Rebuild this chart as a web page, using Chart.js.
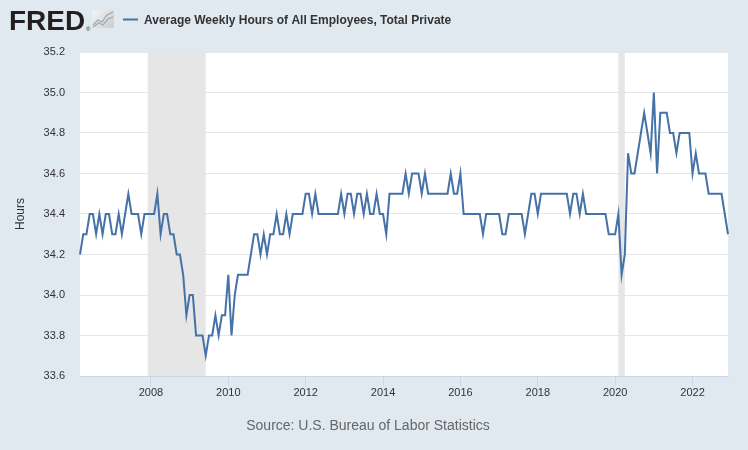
<!DOCTYPE html>
<html>
<head>
<meta charset="utf-8">
<script src="https://cdn.jsdelivr.net/npm/chart.js@4.4.0/dist/chart.umd.min.js"></script>
<style>
html, body { margin: 0; padding: 0; background: #e1e9f0; }
</style>
</head>
<body>
<canvas id="hoursChart" width="748" height="450"></canvas>
<script>
// monthly categories, Mar 2006 .. Dec 2022
const months = [];
for (let y = 2006; y <= 2022; y++) {
    for (let m = (y === 2006 ? 3 : 1); m <= 12; m++) {
        months.push(y + '-' + String(m).padStart(2, '0'));
    }
}

// average weekly hours, one row per year
const hours2006 = [34.2, 34.3, 34.3, 34.4, 34.4, 34.3, 34.4, 34.3, 34.4, 34.4];
const hours2007 = [34.3, 34.3, 34.4, 34.3, 34.4, 34.5, 34.4, 34.4, 34.4, 34.3, 34.4, 34.4];
const hours2008 = [34.4, 34.4, 34.5, 34.3, 34.4, 34.4, 34.3, 34.3, 34.2, 34.2, 34.1, 33.9];
const hours2009 = [34.0, 34.0, 33.8, 33.8, 33.8, 33.7, 33.8, 33.8, 33.9, 33.8, 33.9, 33.9];
const hours2010 = [34.1, 33.8, 34.0, 34.1, 34.1, 34.1, 34.1, 34.2, 34.3, 34.3, 34.2, 34.3];
const hours2011 = [34.2, 34.3, 34.3, 34.4, 34.3, 34.3, 34.4, 34.3, 34.4, 34.4, 34.4, 34.4];
const hours2012 = [34.5, 34.5, 34.4, 34.5, 34.4, 34.4, 34.4, 34.4, 34.4, 34.4, 34.4, 34.5];
const hours2013 = [34.4, 34.5, 34.5, 34.4, 34.5, 34.5, 34.4, 34.5, 34.4, 34.4, 34.5, 34.4];
const hours2014 = [34.4, 34.3, 34.5, 34.5, 34.5, 34.5, 34.5, 34.6, 34.5, 34.6, 34.6, 34.6];
const hours2015 = [34.5, 34.6, 34.5, 34.5, 34.5, 34.5, 34.5, 34.5, 34.5, 34.6, 34.5, 34.5];
const hours2016 = [34.6, 34.4, 34.4, 34.4, 34.4, 34.4, 34.4, 34.3, 34.4, 34.4, 34.4, 34.4];
const hours2017 = [34.4, 34.3, 34.3, 34.4, 34.4, 34.4, 34.4, 34.4, 34.3, 34.4, 34.5, 34.5];
const hours2018 = [34.4, 34.5, 34.5, 34.5, 34.5, 34.5, 34.5, 34.5, 34.5, 34.5, 34.4, 34.5];
const hours2019 = [34.5, 34.4, 34.5, 34.4, 34.4, 34.4, 34.4, 34.4, 34.4, 34.4, 34.3, 34.3];
const hours2020 = [34.3, 34.4, 34.1, 34.2, 34.7, 34.6, 34.6, 34.7, 34.8, 34.9, 34.8, 34.7];
const hours2021 = [35.0, 34.6, 34.9, 34.9, 34.9, 34.8, 34.8, 34.7, 34.8, 34.8, 34.8, 34.8];
const hours2022 = [34.6, 34.7, 34.6, 34.6, 34.6, 34.5, 34.5, 34.5, 34.5, 34.5, 34.4, 34.3];

const hours = [].concat(hours2006, hours2007, hours2008, hours2009, hours2010, hours2011,
    hours2012, hours2013, hours2014, hours2015, hours2016, hours2017, hours2018,
    hours2019, hours2020, hours2021, hours2022);

const tickYears = ['2008', '2010', '2012', '2014', '2016', '2018', '2020', '2022'];
const recessions = [['2007-12', '2009-06'], ['2020-02', '2020-04']];

const FONT = '"Liberation Sans", Arial, sans-serif';

function isYearTick(i) {
    const m = months[i];
    return m && m.endsWith('-01') && tickYears.includes(m.slice(0, 4));
}

// white plot area + grey recession bars
const shading = {
    id: 'shading',
    beforeDraw(chart) {
        const { ctx, chartArea: a } = chart;
        ctx.save();
        ctx.fillStyle = '#ffffff';
        ctx.fillRect(a.left, a.top, a.width, a.height);
        ctx.restore();
    },
    beforeDatasetsDraw(chart) {
        const { ctx, chartArea: a } = chart;
        const x = chart.scales.x;
        ctx.save();
        ctx.fillStyle = '#e6e6e6';
        recessions.forEach(([s, e]) => {
            const x0 = x.getPixelForValue(months.indexOf(s));
            const x1 = x.getPixelForValue(months.indexOf(e));
            ctx.fillRect(x0, a.top, x1 - x0, a.height);
        });
        ctx.restore();
    }
};

// FRED header, legend and source line
const header = {
    id: 'header',
    afterDraw(chart) {
        const ctx = chart.ctx;
        ctx.save();
        ctx.textBaseline = 'alphabetic';
        ctx.fillStyle = '#231f20';
        ctx.font = 'bold 28px ' + FONT;
        ctx.fillText('FRED', 9, 30);
        ctx.font = '6px ' + FONT;
        ctx.fillText('®', 86, 31);

        // little graph icon
        const g = ctx.createLinearGradient(92, 10, 115, 28);
        g.addColorStop(0, '#f4f4f4');
        g.addColorStop(1, '#c8ccd0');
        ctx.fillStyle = g;
        ctx.fillRect(92, 10, 22, 18);
        ctx.lineWidth = 1.2;
        ctx.strokeStyle = '#8fa9c6';
        ctx.beginPath();
        ctx.moveTo(93, 25); ctx.lineTo(98, 20); ctx.lineTo(102, 22); ctx.lineTo(107, 15); ctx.lineTo(113, 12);
        ctx.stroke();
        ctx.strokeStyle = '#a0a4a8';
        ctx.beginPath();
        ctx.moveTo(93, 27); ctx.lineTo(99, 23); ctx.lineTo(103, 25); ctx.lineTo(108, 19); ctx.lineTo(113, 17);
        ctx.stroke();

        ctx.strokeStyle = '#4572a7';
        ctx.lineWidth = 2;
        ctx.beginPath();
        ctx.moveTo(123, 19.5);
        ctx.lineTo(138, 19.5);
        ctx.stroke();

        ctx.fillStyle = '#333333';
        ctx.font = 'bold 12px ' + FONT;
        ctx.fillText('Average Weekly Hours of All Employees, Total Private', 144, 24);

        ctx.fillStyle = '#666666';
        ctx.font = '14px ' + FONT;
        ctx.textAlign = 'center';
        ctx.fillText('Source: U.S. Bureau of Labor Statistics', 368, 430);
        ctx.restore();
    }
};

new Chart(document.getElementById('hoursChart'), {
    type: 'line',
    data: {
        labels: months,
        datasets: [{
            data: hours,
            borderColor: '#4572a7',
            borderWidth: 2,
            pointRadius: 0,
            tension: 0,
            fill: false
        }]
    },
    options: {
        responsive: false,
        animation: false,
        layout: { padding: { top: 52, right: 20, bottom: 44, left: 0 } },
        plugins: {
            legend: { display: false },
            tooltip: { enabled: false }
        },
        scales: {
            x: {
                type: 'category',
                offset: false,
                afterFit(scale) { scale.height = 30; },
                grid: {
                    drawOnChartArea: false,
                    drawTicks: true,
                    tickLength: 10,
                    color: (c) => isYearTick(c.index) ? '#ccd6eb' : 'rgba(0,0,0,0)'
                },
                border: { display: true, color: '#ccd6eb', width: 1 },
                ticks: {
                    autoSkip: false,
                    maxRotation: 0,
                    padding: 0,
                    color: '#333333',
                    font: { family: FONT, size: 11 },
                    callback: (v, i) => isYearTick(i) ? months[i].slice(0, 4) : ''
                }
            },
            y: {
                min: 33.6,
                max: 35.2,
                afterFit(scale) { scale.width = 80; },
                grid: { color: '#e6e6e6', drawTicks: false },
                border: { display: false },
                ticks: {
                    stepSize: 0.2,
                    padding: 15,
                    color: '#333333',
                    font: { family: FONT, size: 11 },
                    callback: (v) => v.toFixed(1)
                },
                title: {
                    display: true,
                    text: 'Hours',
                    color: '#333333',
                    font: { family: FONT, size: 12 },
                    padding: { top: 13, bottom: 0 }
                }
            }
        }
    },
    plugins: [shading, header]
});
</script>
</body>
</html>
